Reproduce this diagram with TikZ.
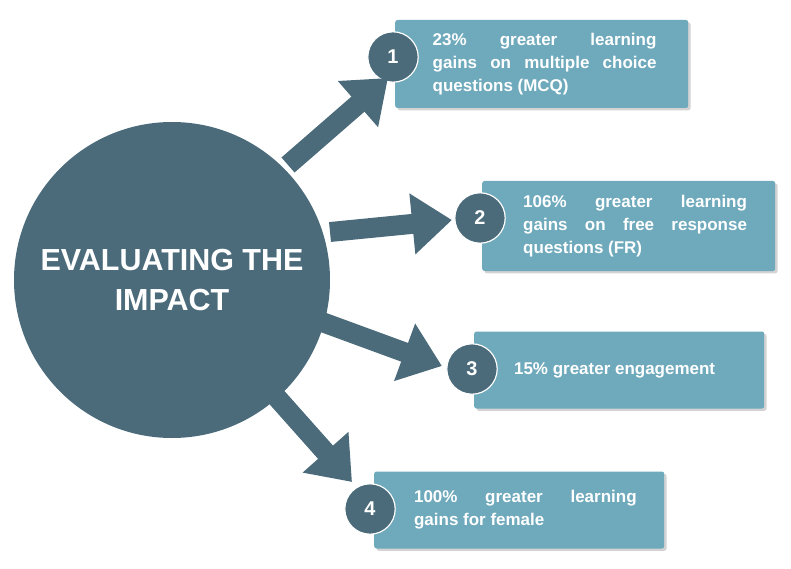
\documentclass[tikz,border=0pt]{standalone}
\usepackage{fontspec}
\setmainfont{Liberation Sans}
\usetikzlibrary{positioning, arrows.meta, shadows}
\definecolor{darkteal}{HTML}{4B6B7B}
\definecolor{lightteal}{HTML}{6EA9BC}
\newcommand{\boxtext}[3]{\hspace*{#1}\parbox{#2}{#3}}
\tikzset{
  infobox/.style={fill=lightteal, text=white, font=\bfseries\fontsize{14.5}{19.5}\selectfont,
    align=justify, inner sep=0pt, rounded corners=2pt, minimum height=#1, anchor=west,
    drop shadow={shadow xshift=2pt, shadow yshift=-2pt, opacity=0.35}},
  numdot/.style={circle, fill=darkteal, text=white, minimum size=43pt,
    font=\bfseries\fontsize{17}{18}\selectfont, draw=white, line width=1pt},
  bigarrow/.style={draw=darkteal, line width=17pt,
    -{Triangle[width=50pt,length=34pt]}}
}
\begin{document}
\begin{tikzpicture}[x=0.03cm,y=-0.03cm]
\useasboundingbox (0,0) rectangle (791,569);

%Main circle
\node[circle, fill=darkteal, minimum size=316*0.03cm, text=white, align=center,
  font=\bfseries\fontsize{26}{34}\selectfont] (impact) at (172,280) {EVALUATING THE\\IMPACT};

%Boxes
\node[infobox=88*0.03cm, text width=293*0.03cm] (b1) at (395,64)
  {\boxtext{32pt}{191pt}{23\% greater learning\linebreak gains on multiple choice\linebreak questions (MCQ)}};
\node[infobox=90*0.03cm, text width=293*0.03cm] (b2) at (482,226)
  {\boxtext{35pt}{191pt}{106\% greater learning\linebreak gains on free response\linebreak questions (FR)}};
\node[infobox=77*0.03cm, text width=290*0.03cm] (b3) at (474,370)
  {\boxtext{34pt}{200pt}{15\% greater engagement}};
\node[infobox=77*0.03cm, text width=290*0.03cm] (b4) at (374,510)
  {\boxtext{34pt}{190pt}{100\% greater learning\linebreak gains for female}};

%Numbers
\node[numdot] (n1) at (393,57) {1};
\node[numdot] (n2) at (480,218) {2};
\node[numdot] (n3) at (472,369) {3};
\node[numdot] (n4) at (370,509) {4};

%Arrows
\coordinate (a1s) at (288,165); \coordinate (a1e) at (388,78);
\coordinate (a2s) at (330,232); \coordinate (a2e) at (452,220);
\coordinate (a3s) at (322,322); \coordinate (a3e) at (442,366);
\coordinate (a4s) at (272,392); \coordinate (a4e) at (352,482);
\foreach \s/\e in {a1s/a1e, a2s/a2e, a3s/a3e, a4s/a4e}
  \draw[bigarrow] (\s) -- (\e);
\end{tikzpicture}
\end{document}
